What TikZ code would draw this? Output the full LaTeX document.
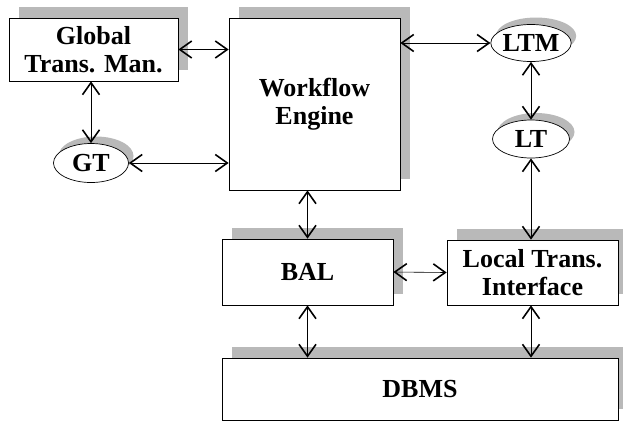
\documentclass[tikz,border=0pt]{standalone}
\usepackage{fontspec}
\setmainfont{Liberation Serif}
\usetikzlibrary{arrows.meta,shadows,shapes.geometric}

\tikzset{barb/.tip={Straight Barb[length=12bp,width=17bp,line width=1.6pt]}}

\begin{document}
\begin{tikzpicture}
  [x=1bp,y=-1bp,
   every node/.style={draw,line width=.7pt,fill=white,align=center,
     font=\fontsize{26bp}{28bp}\selectfont\bfseries},
   box/.style={rectangle,inner sep=0pt,
     drop shadow={shadow xshift=10bp,shadow yshift=11bp,fill=gray!55,opacity=1}},
   oval/.style={ellipse,inner sep=0pt,
     drop shadow={shadow xshift=5bp,shadow yshift=7bp,fill=gray!55,opacity=1}},
   link/.style={barb-barb,line width=.6pt}]
  \useasboundingbox (0,0) rectangle (623,427);

  \node[box,minimum width=169bp,minimum height=63bp] (gtm) at (93.5,49.5) {Global\\Trans. Man.};
  \node[box,minimum width=171bp,minimum height=172bp] (engine) at (314.5,104) {Workflow\\Engine};
  \node[oval,minimum width=75bp,minimum height=39bp] (gt) at (91,163) {GT};
  \node[oval,minimum width=77bp,minimum height=37bp] (ltm) at (531,43) {LTM};
  \node[oval,minimum width=77bp,minimum height=38bp] (lt) at (531,139) {LT};
  \node[box,minimum width=171bp,minimum height=66bp] (bal) at (307.5,272) {BAL};
  \node[box,minimum width=171bp,minimum height=65bp] (lti) at (532.5,272.5) {Local Trans.\\Interface};
  \node[box,minimum width=396bp,minimum height=62bp] (dbms) at (420,389) {DBMS};

  \foreach \from/\to in {gtm.east/{gtm.east -| engine.west},
                         gt.north/{gt.north |- gtm.south},
                         gt.east/{gt.east -| engine.west},
                         ltm.west/{ltm.west -| engine.east},
                         ltm.south/lt.north,
                         lt.south/{lt.south |- lti.north},
                         bal.north/{bal.north |- engine.south},
                         bal.east/lti.west,
                         bal.south/{bal.south |- dbms.north},
                         {lt.south |- lti.south}/{lt.south |- dbms.north}}
    \draw[link] (\from) -- (\to);

\end{tikzpicture}
\end{document}
